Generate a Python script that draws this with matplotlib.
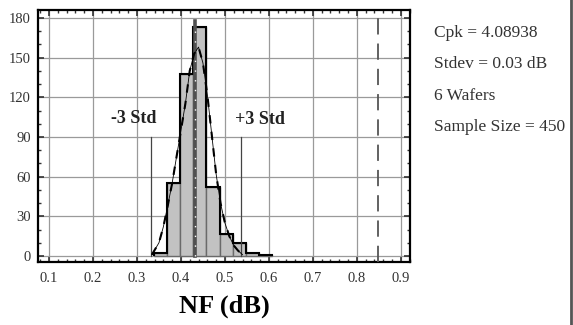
import matplotlib
matplotlib.use("Agg")
import matplotlib.pyplot as plt
from matplotlib.lines import Line2D
from matplotlib.ticker import MultipleLocator

plt.rcParams['font.family'] = ['Liberation Serif', 'DejaVu Serif']

# histogram bins (NF in dB) and counts
bin_edges = [0.338, 0.368, 0.398, 0.428, 0.458, 0.488, 0.518, 0.548, 0.578, 0.608]
counts = [2, 55, 138, 173, 52, 17, 10, 2, 1]

# fitted normal curve, read point by point
curve_x = [0.334, 0.35, 0.36, 0.37, 0.38, 0.39, 0.40, 0.41, 0.42, 0.43, 0.44,
           0.45, 0.46, 0.47, 0.48, 0.49, 0.50, 0.51, 0.52, 0.53, 0.54]
curve_y = [1, 10, 22, 38, 55, 75, 95, 115, 140, 153, 158,
           146, 122, 92, 62, 40, 25, 15, 8, 4, 1]

mean_nf = 0.431
minus3 = 0.332
plus3 = 0.536
limit = 0.848

stats = ['Cpk = 4.08938', 'Stdev = 0.03 dB', '6 Wafers', 'Sample Size = 450']

fig = plt.figure(figsize=(5.73, 3.25), dpi=100)
ax = fig.add_axes([0.0663, 0.194, 0.649, 0.775])

ax.set_xlim(0.075, 0.9205)
ax.set_ylim(-4.5, 186)
ax.set_xticks([0.1, 0.2, 0.3, 0.4, 0.5, 0.6, 0.7, 0.8, 0.9])
ax.set_xticklabels(['0.1', '0.2', '0.3', '0.4', '0.5', '0.6', '0.7', '0.8', '0.9'])
ax.set_yticks([0, 30, 60, 90, 120, 150, 180])
ax.xaxis.set_minor_locator(MultipleLocator(0.02))
ax.yaxis.set_minor_locator(MultipleLocator(10))
ax.grid(True, color='#9a9a9a', lw=0.9)
ax.set_axisbelow(True)
ax.tick_params(which='both', direction='in', top=True, right=True,
               labelsize=10.5, colors='#333333')
ax.tick_params(axis='x', pad=7)
ax.tick_params(axis='y', pad=5)
ax.tick_params(which='major', length=4, width=1.2)
ax.tick_params(which='minor', length=2.5, width=1)
for s in ax.spines.values():
    s.set_linewidth(1.6)
    s.set_color('black')

# bars
widths = [b - a for a, b in zip(bin_edges[:-1], bin_edges[1:])]
ax.bar(bin_edges[:-1], counts, width=widths, align='edge',
       color='#c2c2c2', edgecolor='#6a6a6a', lw=1.0, zorder=2)
ax.stairs(counts, bin_edges, color='black', lw=1.5, zorder=3)

# mean line
ax.plot([mean_nf, mean_nf], [0, 178], color='#505050', lw=2.6, zorder=4)
ax.plot([mean_nf + 0.002, mean_nf + 0.002], [0, 170], color='white', lw=1.0,
        ls=(0, (1, 6)), zorder=5)

# normal curve
ax.plot(curve_x, curve_y, color='black', lw=0.6, zorder=6)
ax.plot(curve_x, curve_y, color='black', lw=1.5, ls=(0, (4, 4)), zorder=6)

# +/- 3 std lines
ax.plot([minus3, minus3], [0, 90], color='#444444', lw=0.9, zorder=4)
ax.plot([plus3, plus3], [0, 90], color='#444444', lw=0.9, zorder=4)
ax.text(0.293, 104, '-3 Std', ha='center', va='center', fontsize=13,
        fontweight='bold', color='#222222')
ax.text(0.579, 103, '+3 Std', ha='center', va='center', fontsize=13,
        fontweight='bold', color='#222222')

# spec limit
ax.axvline(limit, color='#555555', lw=1.3, ls=(0, (9, 5)), zorder=4)

ax.set_xlabel('NF (dB)', fontsize=19, fontweight='bold', labelpad=7)

for i, t in enumerate(stats):
    fig.text(0.757, 1 - (33 + i * 31.5) / 325, t, fontsize=12.5, color='#333333',
             ha='left', va='center')

fig.add_artist(Line2D([571 / 573, 571 / 573], [0, 1], color='#555555', lw=2))

fig.savefig('out.png', dpi=100)
